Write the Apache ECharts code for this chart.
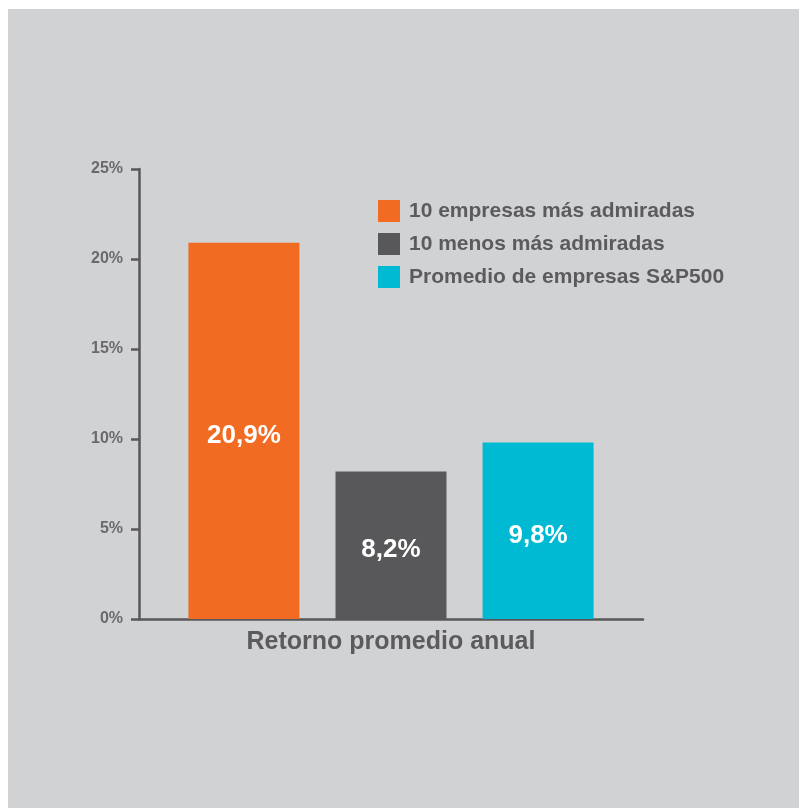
<!DOCTYPE html>
<html>
<head>
<meta charset="utf-8">
<title>Retorno promedio anual</title>
<script src="https://cdn.jsdelivr.net/npm/echarts@6/dist/echarts.min.js"></script>
<style>
  html, body { margin: 0; padding: 0; background: #ffffff; }
  #chart { width: 799px; height: 808px; }
</style>
</head>
<body>
<div id="chart"></div>
<script>
// Chart data
const categories = ['Retorno promedio anual'];
const seriesNames = ['10 empresas más admiradas', '10 menos más admiradas', 'Promedio de empresas S&P500'];
const seriesValues = [20.9, 8.2, 9.8];
const seriesColors = ['#f16b22', '#58585a', '#00b9d2'];
const tickLabels = ['0%', '5%', '10%', '15%', '20%', '25%'];

const axisColor = '#58585a';
const textColor = '#5b5b5d';
const fontFamily = '"Liberation Sans", Arial, Helvetica, sans-serif';

const chart = echarts.init(document.getElementById('chart'), null, { renderer: 'canvas' });

const series = seriesNames.map((name, i) => ({
  name: name,
  type: 'bar',
  data: [seriesValues[i]],
  barWidth: 111,
  barGap: '32.5%',
  itemStyle: { color: seriesColors[i] },
  label: {
    show: true,
    position: 'inside',
    offset: [0, 5],
    color: '#ffffff',
    fontFamily: fontFamily,
    fontWeight: 'bold',
    fontSize: 26,
    formatter: p => String(p.value).replace('.', ',') + '%'
  }
}));

chart.setOption({
  backgroundColor: '#ffffff',
  animation: false,
  graphic: [{
    type: 'rect',
    z: -10,
    silent: true,
    shape: { x: 8, y: 9, width: 799, height: 808 },
    style: { fill: '#d1d2d4' }
  }],
  legend: {
    orient: 'vertical',
    left: 373,
    top: 195,
    icon: 'rect',
    itemWidth: 22,
    itemHeight: 22,
    itemGap: 11,
    selectedMode: false,
    data: seriesNames,
    textStyle: {
      color: textColor,
      fontFamily: fontFamily,
      fontWeight: 'bold',
      fontSize: 21,
      padding: [0, 0, 0, 4]
    }
  },
  grid: { left: 139, right: 156, top: 169, bottom: 189 },
  xAxis: {
    type: 'category',
    data: categories,
    axisLine: { lineStyle: { color: axisColor, width: 2.5 } },
    axisTick: { show: false },
    axisLabel: {
      margin: 11,
      color: textColor,
      fontFamily: fontFamily,
      fontWeight: 'bold',
      fontSize: 25
    }
  },
  yAxis: {
    type: 'value',
    min: 0,
    max: 25,
    interval: 5,
    splitLine: { show: false },
    axisLine: { show: true, lineStyle: { color: axisColor, width: 2.5 } },
    axisTick: { show: true, length: 8, lineStyle: { color: axisColor, width: 2.5 } },
    axisLabel: {
      margin: 16,
      color: '#6a6a6c',
      fontFamily: fontFamily,
      fontWeight: 'bold',
      fontSize: 16,
      formatter: (v, idx) => tickLabels[idx]
    }
  },
  series: series
});
</script>
</body>
</html>
